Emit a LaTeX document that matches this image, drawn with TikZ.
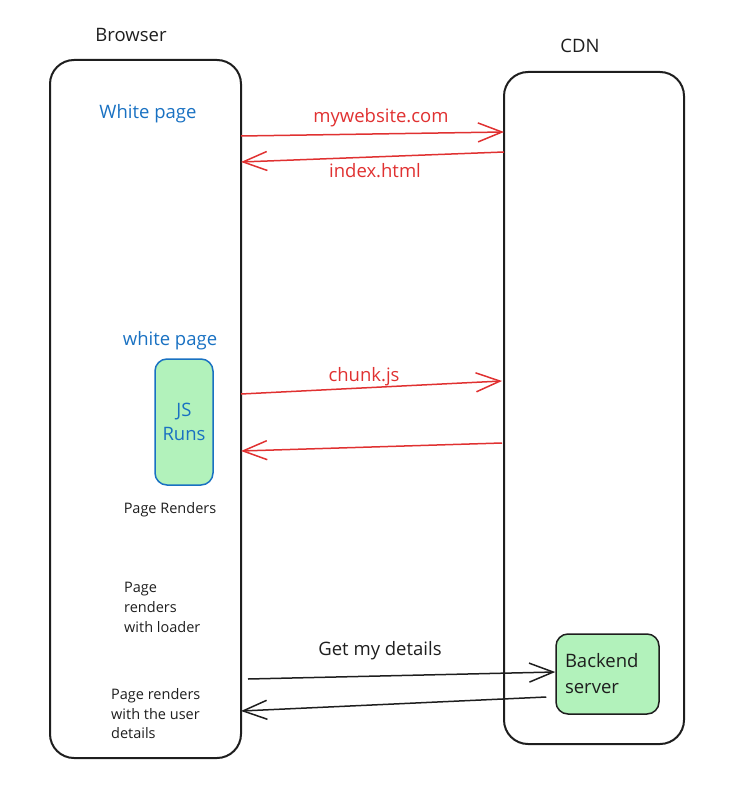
\documentclass[tikz,border=0pt]{standalone}
\usepackage{fontspec}
\setmainfont{Open Sans}
\usetikzlibrary{arrows.meta}
\definecolor{exred}{HTML}{E03131}
\definecolor{exblue}{HTML}{1971C2}
\definecolor{exgreen}{HTML}{B2F2BB}
\definecolor{exblack}{HTML}{1E1E1E}
\begin{document}
\begin{tikzpicture}[x=1pt,y=-1pt,
  lane/.style={draw=exblack,line width=2pt,rounded corners=24pt},
  lbl/.style={font=\fontsize{18.5}{22}\selectfont,text=exblack},
  bluelbl/.style={font=\fontsize{18.5}{22}\selectfont,text=exblue},
  redlbl/.style={font=\fontsize{18.5}{22}\selectfont,text=exred},
  small/.style={font=\fontsize{14.5}{19.8}\selectfont,text=exblack,align=left},
  redarrow/.style={draw=exred,line width=1.5pt,-{Straight Barb[length=24pt,width=19pt,line width=1.5pt]}},
  blackarrow/.style={draw=exblack,line width=1.5pt,-{Straight Barb[length=24pt,width=19pt,line width=1.5pt]}},
  greenbox/.style={fill=exgreen,line width=1.5pt,rounded corners=12pt}
]
\useasboundingbox (0,0) rectangle (730,786);
% lanes
\draw[lane] (50,60) rectangle (241,758);
\draw[lane] (504,72) rectangle (684,744);
\node[lbl] (browser) at (131,35) {Browser};
\node[lbl] (cdn) at (580,46) {CDN};
% anchors
\coordinate (b1) at (241,136);
\coordinate (b2) at (241,162);
\coordinate (b3) at (241,394);
\coordinate (b4) at (241,451);
\coordinate (b5) at (248,679);
\coordinate (b6) at (241,711);
\coordinate (c1) at (504,132);
\coordinate (c2) at (504,152);
\coordinate (c3) at (502,381);
\coordinate (c4) at (502,443);
% texts
\node[bluelbl] (wp1) at (148,114) {White page};
\node[bluelbl] (wp2) at (170,341) {white page};
\node[draw=exblue,greenbox,minimum width=58pt,minimum height=126pt,align=center,
  font=\fontsize{18.5}{24}\selectfont,text=exblue] (js) at (184,422) {JS\\Runs};
\node[small] (pr) at (170,510) {Page Renders};
\node[small,anchor=north west,inner sep=0pt] (prl) at (124,582) {Page\\renders\\with loader};
\node[small,anchor=north west,inner sep=0pt] (pru) at (111,688) {Page renders\\with the user\\details};
\node[draw=exblack,greenbox,minimum width=103pt,minimum height=80pt,align=left,
  font=\fontsize{18.5}{26}\selectfont,text=exblack,text width=85pt] (be) at (607.5,674) {Backend\\server};
% arrows
\draw[redarrow] (b1) -- (c1);
\node[redlbl] (l1) at (381,118) {mywebsite.com};
\draw[redarrow] (c2) -- (b2);
\node[redlbl] (l2) at (375,171) {index.html};
\draw[redarrow] (b3) -- (c3);
\node[redlbl] (l3) at (364,377) {chunk.js};
\draw[redarrow] (c4) -- (b4);
\draw[blackarrow] (b5) -- (be.west |- 0,672);
\node[lbl] (l4) at (380,651) {Get my details};
\draw[blackarrow] (be.west |- 0,697) ++(-9,0) -- (b6);
\end{tikzpicture}
\end{document}
